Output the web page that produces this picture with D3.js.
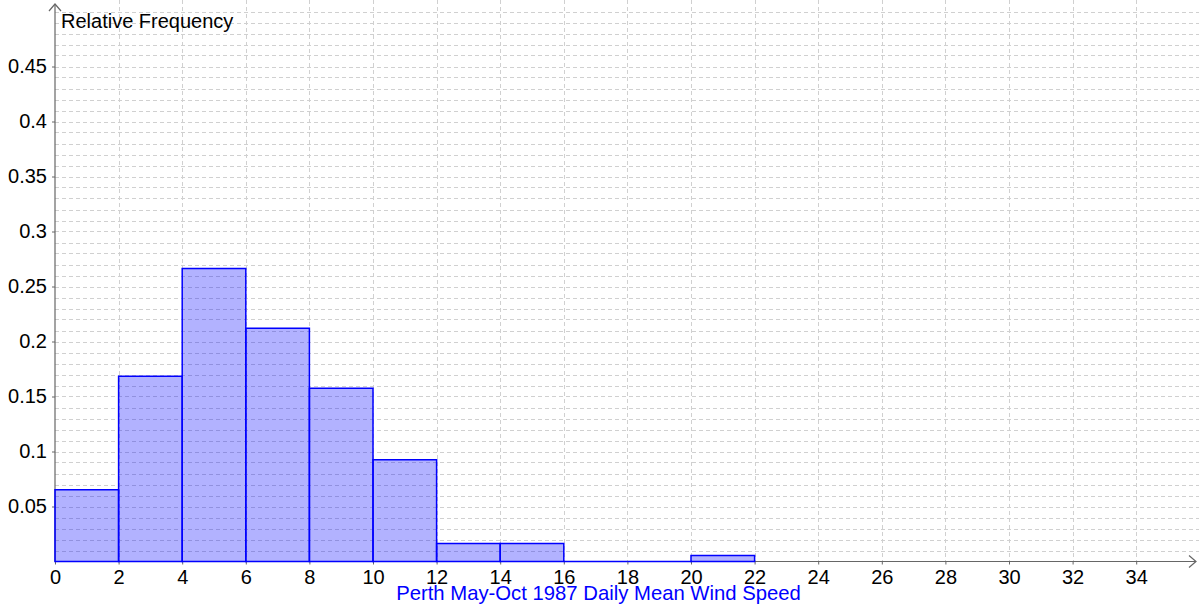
<!DOCTYPE html>
<html><head><meta charset="utf-8">
<script src="https://cdn.jsdelivr.net/npm/d3@7"></script>
<style>
html,body{margin:0;padding:0;background:#fff;}
svg{display:block;font-family:"Liberation Sans",Arial,sans-serif;}
</style></head>
<body>
<svg id="c" width="1199" height="606"></svg>
<script>
// Data
const binStarts = [0, 2, 4, 6, 8, 10, 12, 14, 16, 18, 20];
const binWidth = 2;
const relFreq = [0.0652, 0.1685, 0.2663, 0.2120, 0.1576, 0.0924, 0.0163, 0.0163, 0, 0, 0.0054];
const xTicks = [0,2,4,6,8,10,12,14,16,18,20,22,24,26,28,30,32,34];
const yTicks = [0.05,0.1,0.15,0.2,0.25,0.3,0.35,0.4,0.45];
const yLabel = "Relative Frequency";
const xLabel = "Perth May-Oct 1987 Daily Mean Wind Speed";

const svg = d3.select("#c");
const W = 1199, H = 606;
const x = d3.scaleLinear().domain([0, 36]).range([55, 55 + 36*31.8]);
const y = d3.scaleLinear().domain([0, 0.51]).range([561.5, 561.5 - 0.51*1100]);
const FONT = '"Liberation Sans",Arial,sans-serif';

// grid
const g = svg.append("g");
const hGrid = d3.range(1, 51).map(i => i/100);
g.selectAll("line.h").data(hGrid).join("line")
  .attr("x1", x(0)).attr("x2", W)
  .attr("y1", d => Math.round(y(d))+0.5).attr("y2", d => Math.round(y(d))+0.5)
  .attr("stroke", "#d0d0d0").attr("stroke-width", 1).attr("stroke-dasharray", "4,3");
const vGrid = d3.range(2, 37, 2);
g.selectAll("line.v").data(vGrid).join("line")
  .attr("x1", d => Math.round(x(d))+0.5).attr("x2", d => Math.round(x(d))+0.5)
  .attr("y1", 0).attr("y2", y(0))
  .attr("stroke", "#d0d0d0").attr("stroke-width", 1).attr("stroke-dasharray", "4,3");

// axes
const axCol = "#666";
svg.append("line").attr("x1", x(0)).attr("x2", 1196).attr("y1", y(0)).attr("y2", y(0)).attr("stroke", axCol).attr("stroke-width", 1.2);
svg.append("path").attr("d", `M1189,${y(0)-6} L1196,${y(0)} L1189,${y(0)+6}`).attr("fill","none").attr("stroke", axCol).attr("stroke-width", 1.2);
svg.append("line").attr("x1", x(0)).attr("x2", x(0)).attr("y1", 4).attr("y2", y(0)).attr("stroke", axCol).attr("stroke-width", 1.2);
svg.append("path").attr("d", `M${x(0)-6},11 L${x(0)},4 L${x(0)+6},11`).attr("fill","none").attr("stroke", axCol).attr("stroke-width", 1.2);

const xAxis = d3.axisBottom(x).tickValues(xTicks).tickSize(3).tickFormat(d3.format("d"));
const xg = svg.append("g").attr("transform", `translate(0,${y(0)})`).call(xAxis);
xg.select(".domain").remove();
xg.selectAll(".tick line").attr("stroke", axCol);
xg.selectAll(".tick text").attr("font-size", 20).attr("fill", "#000").attr("y", 22.5).attr("dy", 0)
  .attr("font-family", FONT);

const yAxis = d3.axisLeft(y).tickValues(yTicks).tickSize(3).tickFormat(d => String(+d.toFixed(2)));
const yg = svg.append("g").attr("transform", `translate(${x(0)},0)`).call(yAxis);
yg.select(".domain").remove();
yg.selectAll(".tick line").attr("stroke", axCol);
yg.selectAll(".tick text").attr("font-size", 20).attr("fill", "#000").attr("x", -8)
  .attr("font-family", FONT);

// bars as closed paths (so zero-height bins still show a blue line on the baseline)
svg.append("g").selectAll("path").data(binStarts).join("path")
  .attr("d", (d,i) => {
    const x0 = x(d), x1 = x(d + binWidth), y0 = y(0), y1 = y(relFreq[i]);
    return `M${x0},${y0}L${x0},${y1}L${x1},${y1}L${x1},${y0}Z`;
  })
  .attr("fill", "rgba(0,0,255,0.3)")
  .attr("stroke", "#0000ff").attr("stroke-width", 1.5);

svg.append("text").attr("x", 61).attr("y", 28).attr("font-size", 20).attr("fill", "#000").attr("font-family", FONT).text(yLabel);
svg.append("text").attr("x", 598.5).attr("y", 600).attr("text-anchor", "middle").attr("font-size", 20.3).attr("fill", "#0000ff").attr("font-family", FONT).text(xLabel);
</script>
</body></html>
